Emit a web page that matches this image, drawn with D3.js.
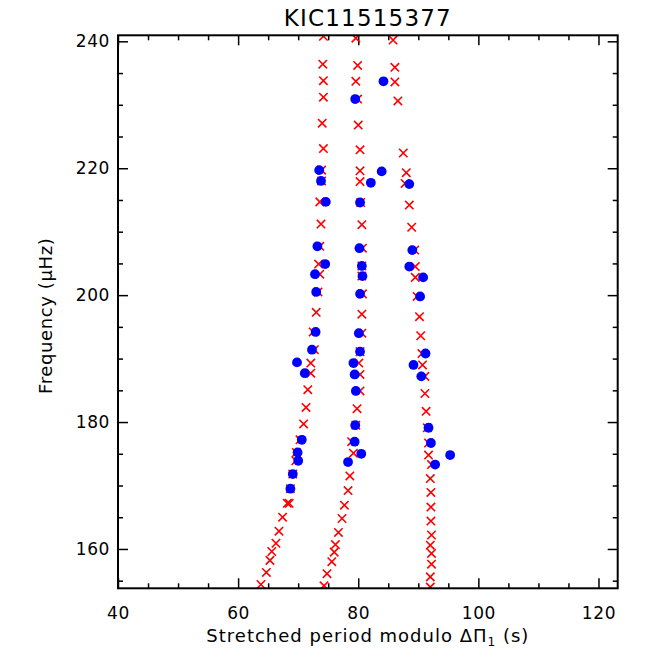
<!DOCTYPE html>
<html>
<head>
<meta charset="utf-8">
<script src="https://cdn.jsdelivr.net/npm/d3@7"></script>
<style>
  html, body { margin: 0; padding: 0; background: #fff; }
  svg { display: block; }
  text { font-family: "DejaVu Sans", sans-serif; fill: #000; }
</style>
</head>
<body>
<svg id="chart" width="664" height="664"></svg>
<script>
// ---------- data ----------
const title = "KIC11515377";
const xTicks = [40, 60, 80, 100, 120];
const yTicks = [160, 180, 200, 220, 240];

// model modes (red crosses): stretched period modulo ΔΠ1 (s) and frequency (μHz)
const model1Period = [74.2,74.1,74.2,74.2,74.0,74.2,73.9,73.9,73.6,73.8,73.6,73.4,73.6,73.3,73.0,72.5,72.7,72.1,72.1,71.6,71.3,70.9,70.3,69.7,69.6,69.1,68.7,68.2,68.5,67.4,66.8,66.3,65.6,65.3,64.7,63.8];
const model1Freq   = [240.8,236.4,233.8,231.2,227.1,223.1,219.7,218.0,214.7,211.2,207.7,204.9,203.3,200.5,197.3,194.2,191.4,189.3,187.7,185.1,182.3,179.7,177.2,175.2,173.9,171.8,169.5,167.2,167.2,165.0,162.8,160.9,159.6,158.2,156.3,154.4];

const model2Period = [79.6,79.9,79.6,79.9,80.0,80.3,80.3,80.3,80.4,80.6,80.7,80.6,80.6,80.7,80.6,80.6,80.3,80.1,80.3,80.3,79.8,79.6,78.9,79.2,78.6,78.3,77.7,77.3,76.7,76.2,76.0,75.6,74.8,74.3];
const model2Freq   = [240.5,236.2,233.7,230.9,226.8,222.9,219.6,217.9,214.6,211.1,207.4,204.6,203.0,200.2,197.0,194.0,191.1,189.3,187.5,184.9,182.1,179.5,176.9,175.1,171.5,169.2,166.9,164.8,162.6,160.7,159.5,158.0,156.1,154.2];

const model3Period = [85.8,86.1,86.1,86.6,87.5,88.0,87.8,88.5,88.9,89.4,89.5,89.5,89.8,90.2,90.4,90.6,90.7,91.1,91.1,91.3,91.5,91.7,91.7,92.2,92.0,92.1,92.1,92.1,92.2,92.0,92.2,92.2,92.0,92.0];
const model3Freq   = [240.2,235.9,233.6,230.6,222.4,219.3,217.6,214.2,210.7,207.1,204.5,202.8,199.8,196.6,193.6,190.8,189.0,187.2,184.5,181.7,179.1,176.7,174.8,173.3,171.1,168.9,166.6,164.4,162.2,160.6,159.3,157.6,155.6,154.0];

// observed modes (blue dots)
const obsPeriod = [73.5,73.8,74.6,73.2,74.5,72.8,73.0,72.9,72.3,69.8,71.1,70.6,69.9,70.0,69.1,68.7,
                   79.5,80.3,82.1,83.9,84.2,80.2,80.6,80.7,80.3,80.1,80.3,79.2,79.4,79.6,79.5,79.4,80.5,78.3,
                   88.5,89.0,88.5,90.8,90.3,91.2,89.2,90.5,91.7,92.1,95.3,92.8];
const obsFreq   = [219.7,218.0,214.7,207.7,204.9,203.3,200.5,194.2,191.4,189.4,187.7,177.2,175.2,173.9,171.8,169.5,
                   230.9,214.6,217.7,219.5,233.7,207.4,204.6,203.0,200.2,194.0,191.1,189.3,187.5,184.9,179.5,176.9,175.0,173.7,
                   217.5,207.1,204.5,202.8,199.8,190.8,189.0,187.2,179.1,176.7,174.8,173.3];

// ---------- layout ----------
const svg = d3.select("#chart");
const mLeft = 118, mRight = 617.7, mTop = 35.3, mBottom = 588.3;

const x = d3.scaleLinear().domain([40, 123.2]).range([mLeft, mRight]);
const y = d3.scaleLinear().domain([153.8, 240.95]).range([mBottom, mTop]);

const xMinor = d3.range(45, 124, 5).filter(v => v % 20 !== 0);
const yMinor = d3.range(155, 241, 5).filter(v => v % 20 !== 0);

function styleAxis(g) {
  g.select(".domain").remove();
  g.selectAll(".tick line").attr("stroke", "#000").attr("stroke-width", 1.5);
}
function styleLabels(g) {
  g.selectAll("text").attr("font-size", 17).attr("letter-spacing", 0.6)
    .attr("font-family", "DejaVu Sans, sans-serif");
}

// bottom
svg.append("g").attr("transform", `translate(0,${mBottom})`)
  .call(d3.axisBottom(x).tickValues(xTicks).tickSizeInner(-10).tickSizeOuter(0).tickPadding(18.6).tickFormat(d3.format("d")))
  .call(styleAxis).call(styleLabels);
svg.append("g").attr("transform", `translate(0,${mBottom})`)
  .call(d3.axisBottom(x).tickValues(xMinor).tickSizeInner(-5).tickSizeOuter(0).tickFormat(""))
  .call(styleAxis);
// top
svg.append("g").attr("transform", `translate(0,${mTop})`)
  .call(d3.axisTop(x).tickValues(xTicks).tickSizeInner(-10).tickSizeOuter(0).tickFormat(""))
  .call(styleAxis);
svg.append("g").attr("transform", `translate(0,${mTop})`)
  .call(d3.axisTop(x).tickValues(xMinor).tickSizeInner(-5).tickSizeOuter(0).tickFormat(""))
  .call(styleAxis);
// left
svg.append("g").attr("transform", `translate(${mLeft},0)`)
  .call(d3.axisLeft(y).tickValues(yTicks).tickSizeInner(-10).tickSizeOuter(0).tickPadding(8).tickFormat(d3.format("d")))
  .call(styleAxis).call(styleLabels);
svg.append("g").attr("transform", `translate(${mLeft},0)`)
  .call(d3.axisLeft(y).tickValues(yMinor).tickSizeInner(-5).tickSizeOuter(0).tickFormat(""))
  .call(styleAxis);
// right
svg.append("g").attr("transform", `translate(${mRight},0)`)
  .call(d3.axisRight(y).tickValues(yTicks).tickSizeInner(-10).tickSizeOuter(0).tickFormat(""))
  .call(styleAxis);
svg.append("g").attr("transform", `translate(${mRight},0)`)
  .call(d3.axisRight(y).tickValues(yMinor).tickSizeInner(-5).tickSizeOuter(0).tickFormat(""))
  .call(styleAxis);

// clip
svg.append("clipPath").attr("id", "plotclip")
  .append("rect").attr("x", mLeft).attr("y", mTop).attr("width", mRight - mLeft).attr("height", mBottom - mTop);

const plot = svg.append("g").attr("clip-path", "url(#plotclip)");

// model crosses
const model = [];
[[model1Period, model1Freq], [model2Period, model2Freq], [model3Period, model3Freq]].forEach(([p, f]) => {
  p.forEach((v, i) => model.push({ p: v, f: f[i] }));
});
const s = 4.2;
plot.append("g").selectAll("path").data(model).join("path")
  .attr("d", d => {
    const cx = x(d.p), cy = y(d.f);
    return `M${cx - s},${cy - s}L${cx + s},${cy + s}M${cx - s},${cy + s}L${cx + s},${cy - s}`;
  })
  .attr("stroke", "#ff0000").attr("stroke-width", 1.6).attr("fill", "none");

// observed dots
const obs = obsPeriod.map((v, i) => ({ p: v, f: obsFreq[i] }));
plot.append("g").selectAll("circle").data(obs).join("circle")
  .attr("cx", d => x(d.p)).attr("cy", d => y(d.f)).attr("r", 4.9)
  .attr("fill", "#0000ff");

// frame
svg.append("rect").attr("x", mLeft).attr("y", mTop).attr("width", mRight - mLeft).attr("height", mBottom - mTop)
  .attr("fill", "none").attr("stroke", "#000").attr("stroke-width", 2);

// title
svg.append("text").attr("x", (mLeft + mRight) / 2).attr("y", 26).attr("text-anchor", "middle")
  .attr("font-size", 23).attr("letter-spacing", 1.2).text(title);

// x label
const xl = svg.append("text").attr("x", (mLeft + mRight) / 2).attr("y", 642).attr("text-anchor", "middle")
  .attr("font-size", 18).attr("letter-spacing", 1);
xl.append("tspan").text("Stretched period modulo ΔΠ");
xl.append("tspan").attr("font-size", 12).attr("dy", 4).text("1");
xl.append("tspan").attr("dy", -4).text(" (s)");

// y label
svg.append("text").attr("transform", `translate(52,${(mTop + mBottom) / 2 + 4}) rotate(-90)`)
  .attr("text-anchor", "middle").attr("font-size", 18).attr("letter-spacing", 0.6).text("Frequency (μHz)");
</script>
</body>
</html>
